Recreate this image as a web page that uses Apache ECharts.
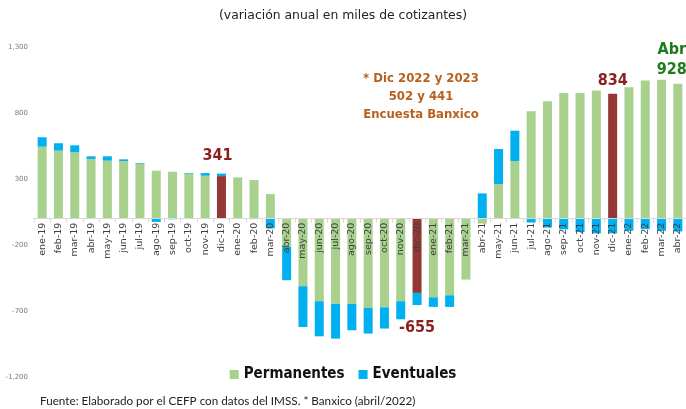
<!DOCTYPE html>
<html>
<head>
<meta charset="utf-8">
<script src="https://cdn.jsdelivr.net/npm/echarts@6/dist/echarts.min.js"></script>
<style>html,body{margin:0;padding:0;background:#fff}#c{width:686px;height:409px}</style>
</head>
<body>
<div id="c"></div>
<script>
var categories = ['ene-19','feb-19','mar-19','abr-19','may-19','jun-19','jul-19','ago-19','sep-19','oct-19','nov-19','dic-19',
  'ene-20','feb-20','mar-20','abr-20','may-20','jun-20','jul-20','ago-20','sep-20','oct-20','nov-20','dic-20',
  'ene-21','feb-21','mar-21','abr-21','may-21','jun-21','jul-21','ago-21','sep-21','oct-21','nov-21','dic-21',
  'ene-22','feb-22','mar-22','abr-22'];
var permanentes = [545,515,502,452,439,436,416,363,355,340,325,322,
  312,292,186,-214,-512,-626,-646,-646,-677,-672,-626,-563,
  -596,-581,-462,-38,262,436,814,889,952,952,970,945,
  996,1046,1051,1021];
var eventuales = [71,56,53,20,33,13,5,-25,-5,5,20,19,
  -3,-4,-74,-253,-309,-266,-263,-200,-194,-161,-137,-92,
  -73,-88,3,191,265,230,-30,-68,-81,-102,-112,-112,
  -92,-80,-92,-97];
var highlightCats = ['dic-19','dic-20','dic-21'];
var annCats = ['dic-19','dic-20','dic-21','abr-22'];
var annVals = [341,-655,834,928];
var annTexts = ['341','-655','834','Abr\n928'];
var yTicks = [-1200,-700,-200,300,800,1300];
var noteLines = ['* Dic 2022 y 2023','502 y 441','Encuesta Banxico'];

var GREEN='#a9d18e', BLUE='#00b0f0', RED='#953735';
var narrow = '"Liberation Sans Narrow","DejaVu Sans Condensed","Liberation Sans",sans-serif';

var GRID_TOP = 47, GRID_BOTTOM = 32, H = 409;
var yMin = yTicks[0], yMax = yTicks[yTicks.length-1];
var plotH = H - GRID_TOP - GRID_BOTTOM;
var zeroOffset = plotH * (0 - yMin) / (yMax - yMin);

var permData = permanentes.map(function(v,i){
  if (highlightCats.indexOf(categories[i])>=0) return {value:v,itemStyle:{color:RED}};
  return v;
});
var annOffsets = [[-4,-18],[0,23],[0,-28],[-6,-36]];
var annColors = ['#8b1f1f','#8b1f1f','#8b1f1f','#1e7a1e'];
var markData = annCats.map(function(c,i){
  return {coord:[c,annVals[i]], label:{formatter:annTexts[i], offset:annOffsets[i], color:annColors[i]}};
});

var chart = echarts.init(document.getElementById('c'), null, {renderer:'canvas'});
chart.setOption({
  animation:false,
  backgroundColor:'#fff',
  grid:{left:34,right:0,top:GRID_TOP,bottom:GRID_BOTTOM,containLabel:false,outerBoundsMode:'none'},
  legend:{
    data:['Permanentes','Eventuales'],
    left:'center', top:362,
    icon:'rect', itemWidth:9, itemHeight:9, itemGap:14,
    textStyle:{fontFamily:narrow, fontWeight:'bold', fontSize:15, color:'#111'}
  },
  xAxis:{
    type:'category', data:categories, position:'bottom', offset:-zeroOffset,
    axisLine:{onZero:false, lineStyle:{color:'#d9d9d9'}},
    axisTick:{show:true, length:4, lineStyle:{color:'#d9d9d9'}},
    axisLabel:{rotate:90, interval:0, margin:4, fontSize:9.5, color:'#404040', fontFamily:'"DejaVu Sans",sans-serif'},
    z:5
  },
  yAxis:{
    type:'value', min:yMin, max:yMax, interval:500,
    splitLine:{show:false}, axisLine:{show:false}, axisTick:{show:false},
    axisLabel:{fontSize:7, color:'#7a7a7a', margin:6, fontFamily:'"DejaVu Sans",sans-serif',
      formatter:function(v){return v.toLocaleString('en-US');}}
  },
  series:[
    {name:'Permanentes', type:'bar', stack:'t', data:permData, barWidth:9,
     itemStyle:{color:GREEN},
     markPoint:{symbol:'circle', symbolSize:1, itemStyle:{color:'rgba(0,0,0,0)'},
       label:{show:true, position:'inside', fontFamily:narrow, fontWeight:'bold', fontSize:16, lineHeight:20, align:'center'},
       data:markData}
    },
    {name:'Eventuales', type:'bar', stack:'t', data:eventuales, barWidth:9, itemStyle:{color:BLUE}}
  ],
  graphic:[
    {type:'text', left:'center', top:10, style:{text:'(variación anual en miles de cotizantes)', font:'12.4px "DejaVu Sans", sans-serif', fill:'#222'}},
    {type:'text', left:40, top:395, style:{text:'Fuente: Elaborado por el CEFP con datos del IMSS. * Banxico (abril/2022)', font:'11.7px Lato, sans-serif', fill:'#222'}},
    {type:'text', x:421, y:70, style:{text:noteLines.join('\n'), align:'center', lineHeight:18, font:'bold 13px '+narrow, fill:'#b8611f'}}
  ]
});
</script>
</body>
</html>
